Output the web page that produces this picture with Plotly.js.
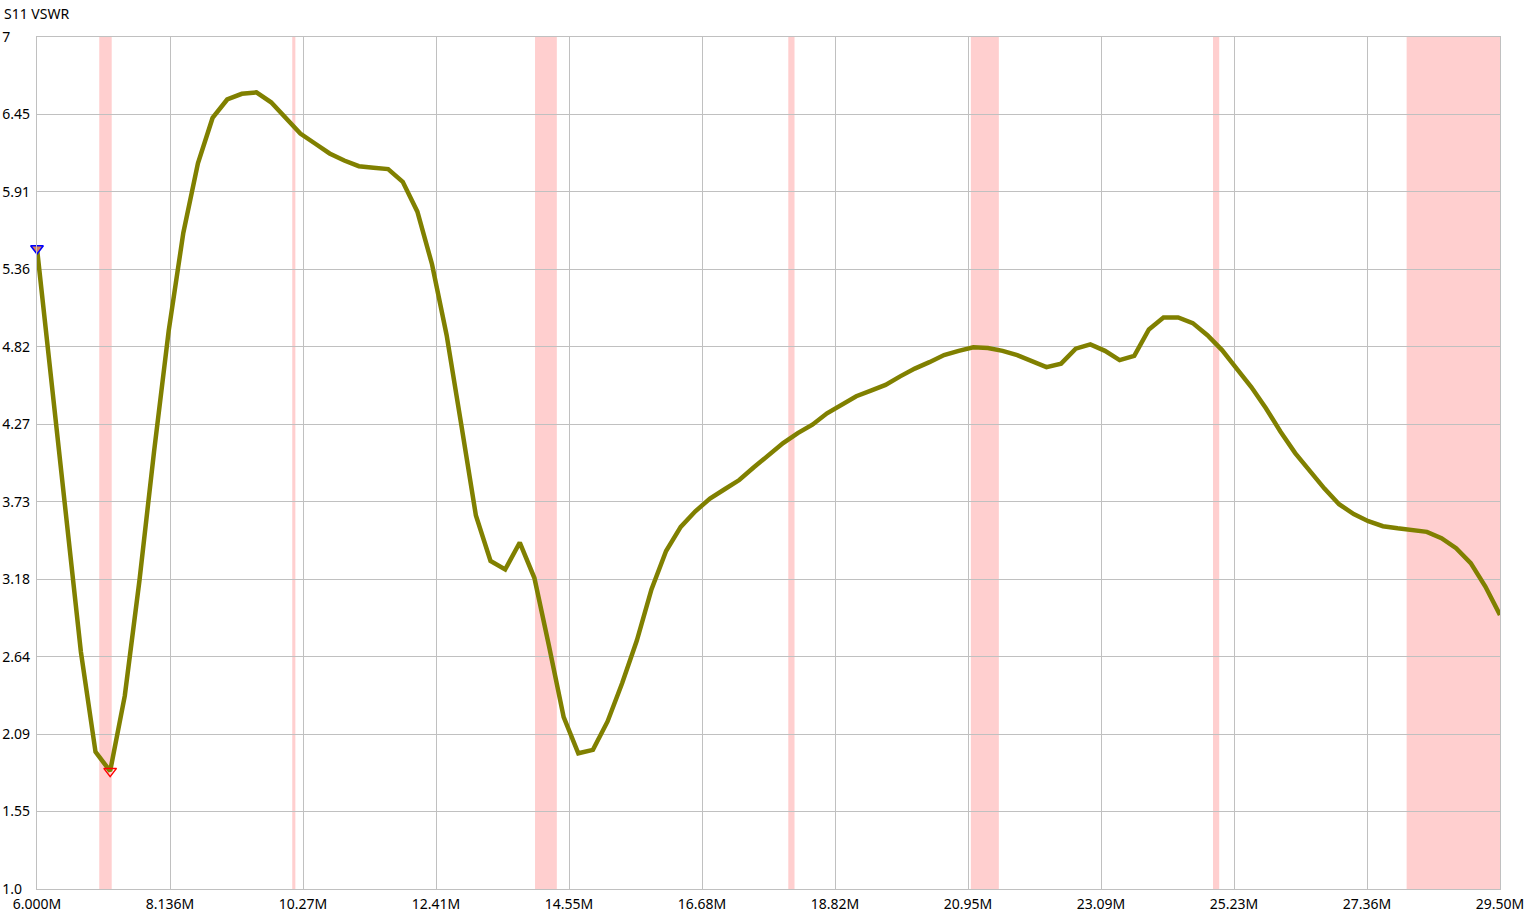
<!DOCTYPE html>
<html>
<head>
<meta charset="utf-8">
<script src="https://cdn.plot.ly/plotly-3.0.1.min.js"></script>
<style>
  html, body { margin: 0; padding: 0; background: #fff; }
  #chart { width: 1525px; height: 916px; }
  .ytick text { text-anchor: start !important; }
</style>
</head>
<body>
<div id="chart"></div>
<script>
// Sweep frequencies (MHz)
const freqMHz = [
  6.000, 6.235, 6.470, 6.705, 6.940, 7.175, 7.410, 7.645, 7.880, 8.115,
  8.350, 8.585, 8.820, 9.055, 9.290, 9.525, 9.760, 9.995, 10.230, 10.465,
  10.700, 10.935, 11.170, 11.405, 11.640, 11.875, 12.110, 12.345, 12.580, 12.815,
  13.050, 13.285, 13.520, 13.755, 13.990, 14.225, 14.460, 14.695, 14.930, 15.165,
  15.400, 15.635, 15.870, 16.105, 16.340, 16.575, 16.810, 17.045, 17.280, 17.515,
  17.750, 17.985, 18.220, 18.455, 18.690, 18.925, 19.160, 19.395, 19.630, 19.865,
  20.100, 20.335, 20.570, 20.805, 21.040, 21.275, 21.510, 21.745, 21.980, 22.215,
  22.450, 22.685, 22.920, 23.155, 23.390, 23.625, 23.860, 24.095, 24.330, 24.565,
  24.800, 25.035, 25.270, 25.505, 25.740, 25.975, 26.210, 26.445, 26.680, 26.915,
  27.150, 27.385, 27.620, 27.855, 28.090, 28.325, 28.560, 28.795, 29.030, 29.265,
  29.500
];

// S11 VSWR values
const vswr = [
  5.51, 4.56, 3.59, 2.67, 1.965, 1.83, 2.36, 3.17, 4.08, 4.93,
  5.62, 6.11, 6.43, 6.56, 6.60, 6.61, 6.54, 6.43, 6.32, 6.25,
  6.18, 6.13, 6.09, 6.08, 6.07, 5.98, 5.77, 5.40, 4.90, 4.27,
  3.63, 3.31, 3.25, 3.44, 3.19, 2.71, 2.21, 1.956, 1.98, 2.18,
  2.45, 2.75, 3.11, 3.38, 3.55, 3.66, 3.75, 3.815, 3.88, 3.97,
  4.055, 4.14, 4.21, 4.27, 4.35, 4.41, 4.47, 4.51, 4.55, 4.61,
  4.665, 4.71, 4.76, 4.79, 4.815, 4.81, 4.79, 4.76, 4.72, 4.675,
  4.70, 4.805, 4.835, 4.79, 4.725, 4.755, 4.94, 5.025, 5.025, 4.985,
  4.90, 4.795, 4.665, 4.535, 4.385, 4.22, 4.07, 3.94, 3.82, 3.71,
  3.64, 3.59, 3.555, 3.54, 3.53, 3.515, 3.47, 3.40, 3.295, 3.13,
  2.93
];

// Markers
const markerStartF = [6.000];
const markerStartV = [5.51];
const markerMinF = [7.175];
const markerMinV = [1.83];

// Amateur band highlights (MHz)
const bandStart = [7.0, 10.1, 14.0, 18.068, 21.0, 24.89, 28.0];
const bandEnd   = [7.2, 10.15, 14.35, 18.168, 21.45, 24.99, 29.7];

// Ticks
const xTickVals = [6, 8.13636, 10.27273, 12.40909, 14.54545, 16.68182, 18.81818, 20.95455, 23.09091, 25.22727, 27.36364, 29.5];
const xTickText = ["6.000M", "8.136M", "10.27M", "12.41M", "14.55M", "16.68M", "18.82M", "20.95M", "23.09M", "25.23M", "27.36M", "29.50M"];
const yTickVals = [1, 1.54545, 2.09091, 2.63636, 3.18182, 3.72727, 4.27273, 4.81818, 5.36364, 5.90909, 6.45455, 7];
const yTickText = ["1.0", "1.55", "2.09", "2.64", "3.18", "3.73", "4.27", "4.82", "5.36", "5.91", "6.45", "7"];

const FONT = 'Noto Sans, "Open Sans", sans-serif';
const GRID = '#c0c0c0';

const traces = [
  {
    x: freqMHz, y: vswr, type: 'scatter', mode: 'lines',
    line: { color: '#808000', width: 4.5 },
    hoverinfo: 'skip', showlegend: false
  },
  {
    x: markerStartF, y: markerStartV, type: 'scatter', mode: 'markers',
    marker: { symbol: 'triangle-down', size: 11, color: '#d9825e', line: { color: '#0000ff', width: 1.5 } },
    showlegend: false, hoverinfo: 'skip', cliponaxis: false
  },
  {
    x: markerMinF, y: markerMinV, type: 'scatter', mode: 'markers',
    marker: { symbol: 'triangle-down', size: 11, color: 'rgba(0,0,0,0)', line: { color: '#ff0000', width: 1.5 } },
    showlegend: false, hoverinfo: 'skip', cliponaxis: false
  }
];

const shapes = bandStart.map((s, i) => ({
  type: 'rect', xref: 'x', yref: 'paper',
  x0: s, x1: bandEnd[i], y0: 0, y1: 1,
  fillcolor: '#ffcfcf', line: { width: 0 }, layer: 'below'
}));

const layout = {
  width: 1525, height: 916,
  margin: { l: 37, r: 25, t: 37, b: 27, pad: 0 },
  paper_bgcolor: '#ffffff', plot_bgcolor: '#ffffff',
  font: { family: FONT, size: 14, color: '#000000' },
  title: {
    text: 'S11 VSWR', xref: 'container', yref: 'container',
    x: 4 / 1525, xanchor: 'left', y: 1 - 14 / 916, yanchor: 'middle',
    font: { family: FONT, size: 14, color: '#000000' }
  },
  showlegend: false,
  shapes: shapes,
  xaxis: {
    range: [6, 29.5], tickmode: 'array', tickvals: xTickVals, ticktext: xTickText,
    showgrid: true, gridcolor: GRID, gridwidth: 1, zeroline: false,
    showline: true, linecolor: GRID, linewidth: 1, mirror: true,
    ticks: '', ticklabelstandoff: 2,
    tickfont: { family: FONT, size: 14, color: '#000000' },
    fixedrange: true
  },
  yaxis: {
    range: [1, 7], tickmode: 'array', tickvals: yTickVals, ticktext: yTickText,
    showgrid: true, gridcolor: GRID, gridwidth: 1, zeroline: false,
    showline: true, linecolor: GRID, linewidth: 1, mirror: true,
    ticks: '', ticklabelstandoff: 31,
    tickfont: { family: FONT, size: 14, color: '#000000' },
    fixedrange: true
  }
};

Plotly.newPlot('chart', traces, layout, { displayModeBar: false, staticPlot: true });
</script>
</body>
</html>
